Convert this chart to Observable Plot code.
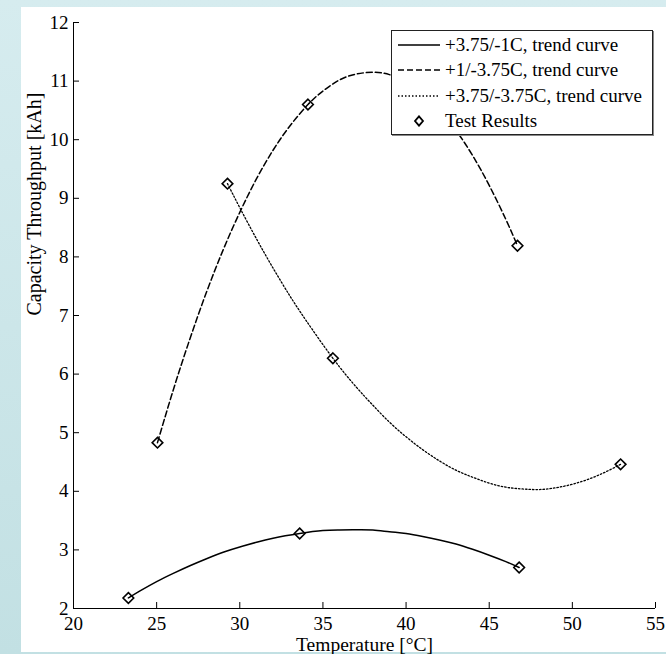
<!DOCTYPE html>
<html>
<head>
<meta charset="utf-8">
<script src="https://cdn.jsdelivr.net/npm/d3@7"></script>
<script src="https://cdn.jsdelivr.net/npm/@observablehq/plot@0.6"></script>
<style>
  html, body { margin: 0; padding: 0; }
  body { width: 666px; height: 654px; overflow: hidden;
         background: linear-gradient(to bottom, #d6ecef, #c2e0e3); }
  #wrap { position: relative; width: 666px; height: 654px; }
  #panel { position: absolute; left: 21px; top: 7px; width: 645px; height: 645px; background: #ffffff; }
  #chart { position: absolute; left: 0; top: 0; }
  #legend { position: absolute; left: 391px; top: 30px; width: 260px; height: 103px;
            background: #ffffff; border: 1px solid #222; box-shadow: 1px 1px 0 #888;
            font-family: "Liberation Serif", serif; font-size: 19px; color: #000; }
  .row { position: absolute; left: 0; height: 25px; display: flex; align-items: center; white-space: nowrap; }
  .row svg { margin-left: 6px; margin-right: 5px; }
</style>
</head>
<body>
<div id="wrap">
  <div id="panel"></div>
  <div id="chart"></div>
  <div id="legend"></div>
</div>
<script>
// ---- data ----
const seriesNames = ["+3.75/-1C, trend curve", "+1/-3.75C, trend curve", "+3.75/-3.75C, trend curve"];
const markerName = "Test Results";
const seriesDash = ["none", "6,3", "1.5,2"];

// test results
const testTempA = [23.3, 33.6, 46.8];
const testCapA  = [2.18, 3.28, 2.70];
const testTempB = [25.05, 34.1, 46.7];
const testCapB  = [4.83, 10.6, 8.19];
const testTempC = [29.26, 35.6, 52.9];
const testCapC  = [9.25, 6.27, 4.46];

// trend curves
const curveTempA = [23.3, 24, 25, 26, 27, 28, 29, 30, 31, 32, 33.6, 35, 36, 37, 38, 39, 40, 41, 42, 43, 44, 45, 46, 46.8];
const curveCapA  = [2.18, 2.30, 2.46, 2.60, 2.73, 2.85, 2.96, 3.05, 3.13, 3.20, 3.28, 3.33, 3.34, 3.345, 3.34, 3.31, 3.28, 3.23, 3.17, 3.10, 3.01, 2.91, 2.80, 2.70];
const curveTempB = [25.05, 26, 27, 28, 29, 30, 31, 32, 33, 34.1, 35, 36, 37, 38, 39, 40, 41, 42, 43, 44, 45, 46, 46.7];
const curveCapB  = [4.83, 5.73, 6.60, 7.40, 8.12, 8.76, 9.33, 9.82, 10.23, 10.6, 10.83, 11.02, 11.12, 11.15, 11.11, 10.98, 10.79, 10.51, 10.16, 9.73, 9.22, 8.64, 8.19];
const curveTempC = [29.26, 30, 31, 32, 33, 34, 35.6, 37, 38, 39, 40, 41, 42, 43, 44, 45, 46, 47, 48, 49, 50, 51, 52, 52.9];
const curveCapC  = [9.25, 8.84, 8.31, 7.81, 7.34, 6.91, 6.27, 5.78, 5.47, 5.18, 4.93, 4.71, 4.52, 4.36, 4.24, 4.14, 4.07, 4.04, 4.03, 4.06, 4.12, 4.21, 4.33, 4.46];

const xTicks = [20, 25, 30, 35, 40, 45, 50, 55];
const yTicks = [2, 3, 4, 5, 6, 7, 8, 9, 10, 11, 12];
const xLabel = "Temperature [°C]";
const yLabel = "Capacity Throughput [kAh]";

// ---- build tables ----
const curveTemps = [curveTempA, curveTempB, curveTempC];
const curveCaps = [curveCapA, curveCapB, curveCapC];
const testTemps = [testTempA, testTempB, testTempC];
const testCaps = [testCapA, testCapB, testCapC];

const curves = curveTemps.map((ts, i) => ts.map((t, j) => ({t, c: curveCaps[i][j], s: seriesNames[i]})));
const tests = testTemps.flatMap((ts, i) => ts.map((t, j) => ({t, c: testCaps[i][j], s: seriesNames[i]})));

const font = "Liberation Serif";

const plot = Plot.plot({
  width: 666,
  height: 654,
  marginLeft: 73,
  marginRight: 11,
  marginTop: 22,
  marginBottom: 46,
  style: {background: "transparent", fontFamily: font, fontSize: "19px", color: "#000"},
  x: {domain: [xTicks[0], xTicks[xTicks.length - 1]]},
  y: {domain: [yTicks[0], yTicks[yTicks.length - 1]]},
  marks: [
    ...curves.map((d, i) => Plot.line(d, {
      x: "t", y: "c", curve: "natural", stroke: "#000",
      strokeWidth: i === 2 ? 1.3 : 1.5,
      strokeDasharray: seriesDash[i] === "none" ? null : seriesDash[i]
    })),
    Plot.dot(tests, {x: "t", y: "c", symbol: "diamond2", r: 4.8, stroke: "#000", strokeWidth: 1.6, fill: "none"}),
    Plot.ruleX([xTicks[0]], {stroke: "#000", strokeWidth: 1}),
    Plot.ruleY([yTicks[0]], {stroke: "#000", strokeWidth: 1}),
    Plot.axisX({ticks: xTicks, tickSize: -6, tickPadding: 14, tickFormat: d => String(d),
      label: null, fontSize: 19}),
    Plot.axisY({ticks: yTicks, tickSize: -6, tickPadding: 11, tickFormat: d => String(d),
      label: null, fontSize: 19}),
    Plot.text([xLabel], {text: d => d, frameAnchor: "bottom", lineAnchor: "top", dy: 28.5, fontSize: 19.5, fill: "#000"}),
    Plot.text([yLabel], {text: d => d, frameAnchor: "left", lineAnchor: "top", rotate: -90, dx: -47, fontSize: 20, fill: "#000"})
  ]
});
document.getElementById("chart").appendChild(plot);

// ---- legend ----
const legend = document.getElementById("legend");
const entries = seriesNames.map((n, i) => ({name: n, dash: seriesDash[i], marker: false}))
  .concat([{name: markerName, dash: null, marker: true}]);
entries.forEach((e, i) => {
  const row = document.createElement("div");
  row.className = "row";
  row.style.top = (1 + i * 25.5) + "px";
  let sample;
  if (e.marker) {
    sample = `<svg width="42" height="12"><path d="M21,1.3 L25,6 L21,10.7 L17,6 Z" fill="none" stroke="#000" stroke-width="1.8"/></svg>`;
  } else {
    sample = `<svg width="42" height="12"><line x1="0" y1="6" x2="42" y2="6" stroke="#000" stroke-width="${i === 2 ? 1.3 : 1.6}" ${e.dash !== "none" ? `stroke-dasharray="${e.dash}"` : ""}/></svg>`;
  }
  row.innerHTML = sample + `<span>${e.name}</span>`;
  legend.appendChild(row);
});
</script>
</body>
</html>
